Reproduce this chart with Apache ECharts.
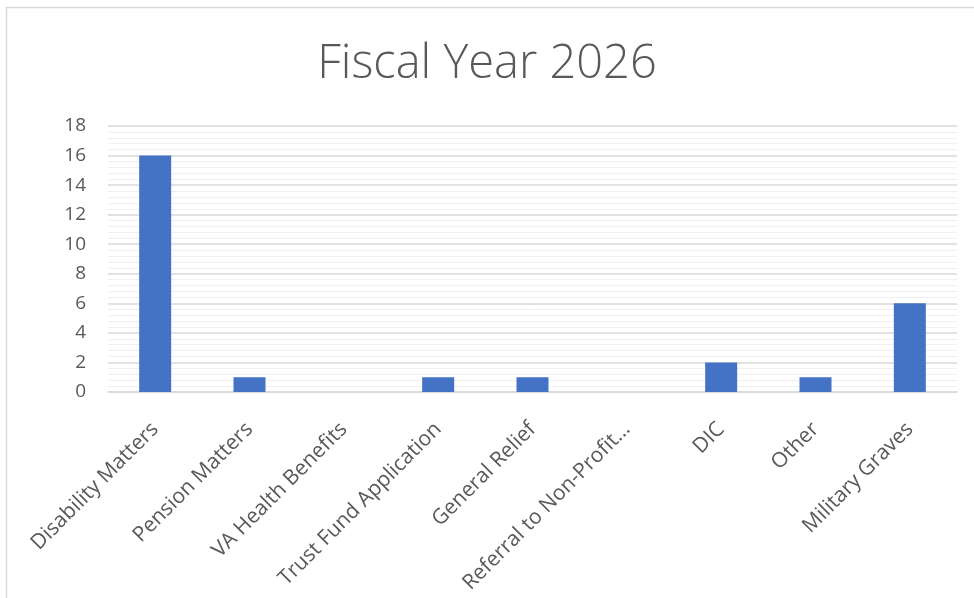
<!DOCTYPE html>
<html><head><meta charset="utf-8">
<script src="https://cdn.jsdelivr.net/npm/echarts@6/dist/echarts.min.js"></script>
<style>html,body{margin:0;padding:0;background:#fff}#c{width:974px;height:598px}</style>
</head><body><div id="c"></div>
<script>
const categories = ["Disability Matters","Pension Matters","VA Health Benefits","Trust Fund Application","General Relief","Referral to Non-Profit…","DIC","Other","Military Graves"];
const values = [16,1,0,1,1,0,2,1,6];
const chart = echarts.init(document.getElementById('c'));
chart.setOption({
  animation:false,
  title:{text:"Fiscal Year 2026",left:'center',top:36,textStyle:{fontFamily:'Open Sans',fontWeight:300,fontSize:47,color:'#595959'}},
  graphic:[{type:'rect',shape:{x:6.5,y:7.5,width:980,height:600},style:{fill:'none',stroke:'#d9d9d9',lineWidth:1.5},silent:true}],
  grid:{left:108,right:17,top:126,bottom:206},
  xAxis:{type:'category',data:categories,
    axisLine:{lineStyle:{color:'#d9d9d9',width:1.5}},axisTick:{show:false},
    axisLabel:{rotate:45,interval:0,fontFamily:'Open Sans',fontSize:21,color:'#595959',margin:34}},
  yAxis:{type:'value',min:0,max:18,interval:2,
    axisLine:{show:false},axisTick:{show:false},
    axisLabel:{fontFamily:'Open Sans',fontSize:19,color:'#595959',margin:22},
    splitLine:{lineStyle:{color:'#d9d9d9',width:1.5}},
    minorTick:{show:false,splitNumber:5},
    minorSplitLine:{show:true,lineStyle:{color:'#f0f0f0',width:1}}},
  series:[{type:'bar',data:values,barWidth:32,itemStyle:{color:'#4472C4'}}]
});
</script></body></html>
